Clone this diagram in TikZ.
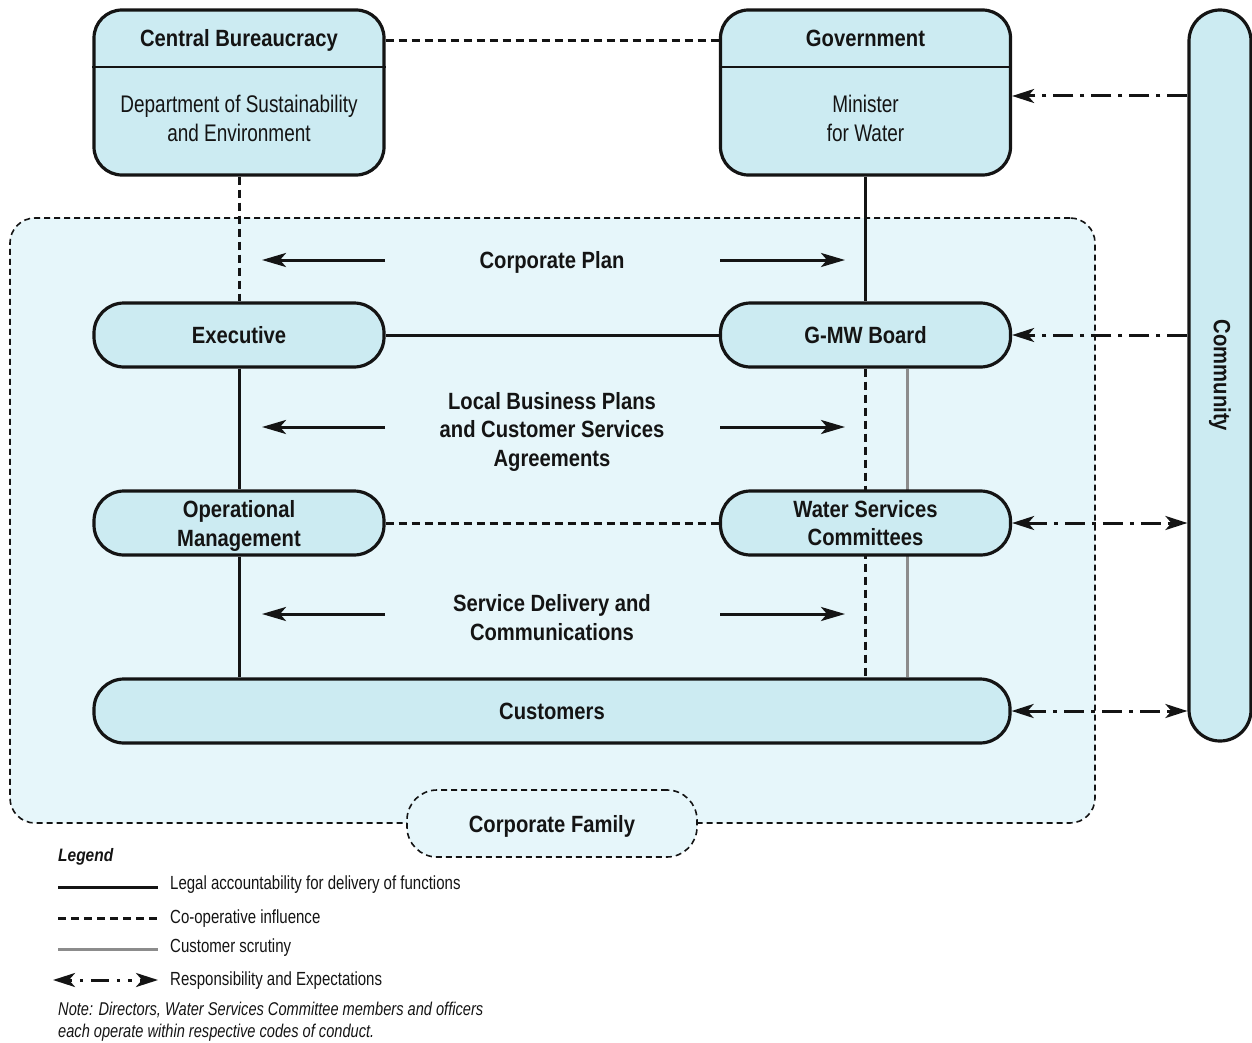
\documentclass[tikz,border=0pt]{standalone}
\usepackage{fontspec}
\usepackage{graphicx}
\newfontfamily\rfont{Liberation Sans}[FakeStretch=0.79]
\newfontfamily\bfont{Liberation Sans}[FakeStretch=0.86]
\usetikzlibrary{arrows.meta,backgrounds}
\definecolor{boxfill}{HTML}{CCEBF2}
\definecolor{regfill}{HTML}{E6F6FA}
\definecolor{scrut}{HTML}{8C8C8C}
\definecolor{ink}{HTML}{141414}
\begin{document}
\begin{tikzpicture}[x=1pt,y=-1pt,
  bigbox/.style={draw=ink, line width=3.2pt, fill=boxfill, rounded corners=28pt, minimum width=290pt, minimum height=165pt, inner sep=0pt},
  pill/.style={draw=ink, line width=3.2pt, fill=boxfill, rounded corners=30pt, minimum width=290pt, minimum height=64pt, inner sep=0pt, align=center, font=\bfont\bfseries\fontsize{23.5}{28.5}\selectfont, text=ink},
  ttl/.style={font=\bfont\bfseries\fontsize{23.5}{28.5}\selectfont, align=center, text=ink, inner sep=0pt},
  bdy/.style={font=\rfont\fontsize{24}{29}\selectfont, align=center, text=ink, inner sep=0pt},
  legtext/.style={font=\rfont\fontsize{19}{23}\selectfont, anchor=west, text=ink, inner sep=0pt},
  lawline/.style={draw=ink, line width=3pt},
  coopline/.style={draw=ink, line width=3pt, dash pattern=on 8pt off 5pt},
  scrline/.style={draw=scrut, line width=3pt},
  respline/.style={draw=ink, line width=3pt, dash pattern=on 20pt off 7pt on 4pt off 7pt},
  resphead/.style={-{Stealth[length=22pt,width=14pt,inset=6pt]}},
  respboth/.style={{Stealth[length=22pt,width=14pt,inset=6pt]}-{Stealth[length=22pt,width=14pt,inset=6pt]}},
  flowarr/.style={draw=ink, line width=3pt, -{Stealth[length=24pt,width=14pt,inset=6pt]}},
  region/.style={draw=ink, line width=1.6pt, dash pattern=on 6pt off 4pt, fill=regfill, rounded corners=25pt, inner sep=0pt}
]
\useasboundingbox (0,0) rectangle (1252,1043);

% helper coordinates
\coordinate (dv) at (0,67);
\coordinate (r0) at (0,41);
\coordinate (r1) at (0,96);
\coordinate (gx) at (907,0);

% top boxes
\node[bigbox] (cb) at (239,92.5) {};
\draw[draw=ink, line width=1.5pt] (cb.west |- dv) -- (cb.east |- dv);
\node[ttl] (cbt) at (239,40.3) {Central Bureaucracy};
\node[bdy] (cbb) at (239,118.4) {Department of Sustainability\\and Environment};

\node[bigbox] (gov) at (865.5,92.5) {};
\draw[draw=ink, line width=1.5pt] (gov.west |- dv) -- (gov.east |- dv);
\node[ttl] (govt) at (865.5,38) {Government};
\node[bdy] (govb) at (865.5,118.4) {Minister\\for Water};

% community
\node[draw=ink, line width=3.2pt, fill=boxfill, rounded corners=31pt, minimum width=62pt, minimum height=731pt, inner sep=0pt, font=\bfont\bfseries\fontsize{23.5}{28.5}\selectfont, text=ink] (comm) at (1220,375.5) {\rotatebox{-90}{Community}};

% pills
\node[pill] (exec) at (239,335) {Executive};
\node[pill] (gmw) at (865.5,335) {G-MW Board};
\node[pill] (opm) at (239,523) {};
\node[ttl] (opmt) at (239,525.9) {Operational\\Management};
\node[pill] (wsc) at (865.5,523) {Water Services\\Committees};
\node[pill, minimum width=916pt] (cust) at (552,711) {Customers};

% corporate family label
\node[region, minimum width=290pt, minimum height=67pt, rounded corners=30pt, text depth=0pt, font=\bfont\bfseries\fontsize{23.5}{28.5}\selectfont, text=ink] (cf) at (552,823.5) {Corporate Family};

% flow labels
\node[ttl] (cp) at (552,262.3) {Corporate Plan};
\node[ttl] (lbp) at (552,431.8) {Local Business Plans\\and Customer Services\\Agreements};
\node[ttl] (sdc) at (552,617.4) {Service Delivery and\\Communications};

% flow arrows
\coordinate (a1s) at (385,260); \coordinate (a1e) at (262,260);
\coordinate (a2s) at (720,260); \coordinate (a2e) at (845,260);
\coordinate (b1s) at (385,427); \coordinate (b1e) at (262,427);
\coordinate (b2s) at (720,427); \coordinate (b2e) at (845,427);
\coordinate (c1s) at (385,614); \coordinate (c1e) at (262,614);
\coordinate (c2s) at (720,614); \coordinate (c2e) at (845,614);
\foreach \p in {a1,a2,b1,b2,c1,c2} \draw[flowarr] (\p s) -- (\p e);

% responsibility arrows
\draw[respline, resphead] (comm.west |- r1) -- (gov.east |- r1);
\draw[respline, resphead] (comm.west |- gmw.east) -- (gmw.east);
\draw[respline, respboth] (wsc.east) -- (comm.west |- wsc.east);
\draw[respline, respboth] (cust.east) -- (comm.west |- cust.east);

% connectors (behind boxes)
\begin{scope}[on background layer]
  \node[region, minimum width=1085pt, minimum height=605pt] (corp) at (552.5,520.5) {};
  \draw[coopline] (cb.east |- r0) -- (gov.west |- r0);
  \draw[coopline] (cb) -- (exec);
  \draw[lawline] (gov) -- (gmw);
  \draw[lawline] (exec) -- (gmw);
  \draw[lawline] (exec) -- (opm);
  \draw[coopline] (opm) -- (wsc);
  \draw[lawline] (opm.south) -- (opm.south |- cust.north);
  \draw[coopline] (gmw.south) -- (gmw.south |- cust.north);
  \draw[scrline] (gx |- gmw.south) -- (gx |- cust.north);
\end{scope}

% legend
\node[font=\bfont\bfseries\itshape\fontsize{18}{22}\selectfont, anchor=west, inner sep=0pt, text=ink] (leg) at (58,857) {Legend};
\coordinate (l1a) at (58,887); \coordinate (l1b) at (158,887);
\coordinate (l2a) at (58,918); \coordinate (l2b) at (158,918);
\coordinate (l3a) at (58,949); \coordinate (l3b) at (158,949);
\coordinate (l4a) at (53,980); \coordinate (l4b) at (158,980);
\draw[lawline] (l1a) -- (l1b);
\draw[coopline] (l2a) -- (l2b);
\draw[scrline] (l3a) -- (l3b);
\draw[respline, respboth, dash pattern=on 4pt off 8pt on 3pt off 8pt on 18pt off 8pt on 3pt off 8pt] (l4a) -- (l4b);
\node[legtext] (lt1) at (170,885) {Legal accountability for delivery of functions};
\node[legtext] (lt2) at (170,919) {Co-operative influence};
\node[legtext] (lt3) at (170,948) {Customer scrutiny};
\node[legtext] (lt4) at (170,981) {Responsibility and Expectations};
\node[font=\rfont\itshape\fontsize{18.5}{21.5}\selectfont, anchor=west, align=left, inner sep=0pt, text=ink] (note) at (58,1021.5) {Note: Directors, Water Services Committee members and officers\\each operate within respective codes of conduct.};
\end{tikzpicture}
\end{document}
